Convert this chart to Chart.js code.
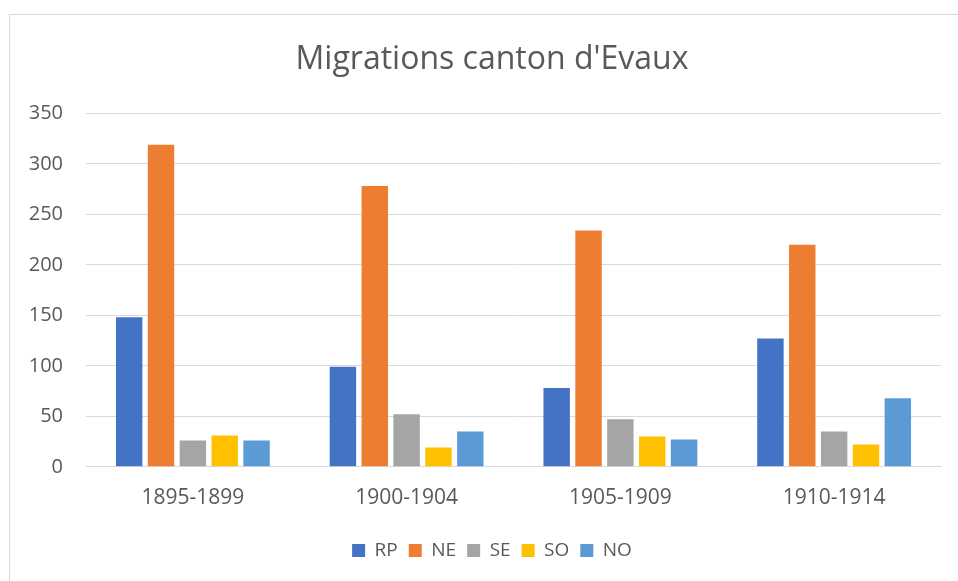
<!DOCTYPE html>
<html>
<head>
<meta charset="utf-8">
<script src="https://cdn.jsdelivr.net/npm/chart.js@4.4.0/dist/chart.umd.min.js"></script>
<style>
  body { margin: 0; background: #fff; overflow: hidden; }
  #frame { position: absolute; left: 9px; top: 14px; width: 1000px; height: 600px;
           border-left: 1px solid #d9d9d9; border-top: 1px solid #d9d9d9; }
  #chart { position: absolute; left: 0; top: 0; }
</style>
</head>
<body>
<div id="frame"></div>
<canvas id="chart" width="984" height="581"></canvas>
<script>
var periods = ['1895-1899', '1900-1904', '1905-1909', '1910-1914'];
var rp = [148, 99, 78, 127];
var ne = [319, 278, 234, 220];
var se = [26, 52, 47, 35];
var so = [31, 19, 30, 22];
var no = [26, 35, 27, 68];
var yTicks = [0, 50, 100, 150, 200, 250, 300, 350];

var textColor = '#595959';
var font = "'Open Sans', sans-serif";

function dataset(label, values, color) {
    return {
        label: label,
        data: values,
        backgroundColor: color,
        borderWidth: 0,
        categoryPercentage: 0.745,
        barPercentage: 0.83
    };
}

var ctx = document.getElementById('chart');
var chart = new Chart(ctx, {
    type: 'bar',
    data: {
        labels: periods,
        datasets: [
            dataset('RP', rp, '#4472C4'),
            dataset('NE', ne, '#ED7D31'),
            dataset('SE', se, '#A5A5A5'),
            dataset('SO', so, '#FFC000'),
            dataset('NO', no, '#5B9BD5')
        ]
    },
    options: {
        responsive: false,
        animation: false,
        layout: { padding: { left: 0, right: 0, top: 0, bottom: 11 } },
        plugins: {
            title: {
                display: true,
                text: "Migrations canton d'Evaux",
                color: textColor,
                font: { family: font, size: 32, weight: 'normal' },
                padding: { top: 41, bottom: 34 }
            },
            legend: {
                position: 'bottom',
                labels: {
                    color: textColor,
                    font: { family: font, size: 19 },
                    boxWidth: 13,
                    boxHeight: 13,
                    padding: 11
                }
            },
            tooltip: { enabled: false }
        },
        scales: {
            x: {
                grid: { display: false, drawTicks: false },
                border: { display: true, color: '#d9d9d9', width: 1 },
                ticks: { color: textColor, font: { family: font, size: 21 }, padding: 19 }
            },
            y: {
                min: 0,
                max: 350,
                afterBuildTicks: function(axis) {
                    axis.ticks = yTicks.map(function(v) { return { value: v }; });
                },
                afterFit: function(axis) { axis.width = 86; },
                grid: { color: '#d9d9d9', lineWidth: 1, drawTicks: false },
                border: { display: false },
                ticks: { color: textColor, font: { family: font, size: 20 }, padding: 23 }
            },
            // empty axis on the right, only there to leave the margin the original has
            yRight: {
                type: 'linear',
                position: 'right',
                afterFit: function(axis) { axis.width = 43; },
                grid: { display: false, drawTicks: false },
                border: { display: false },
                ticks: { display: false }
            }
        }
    }
});
</script>
</body>
</html>
